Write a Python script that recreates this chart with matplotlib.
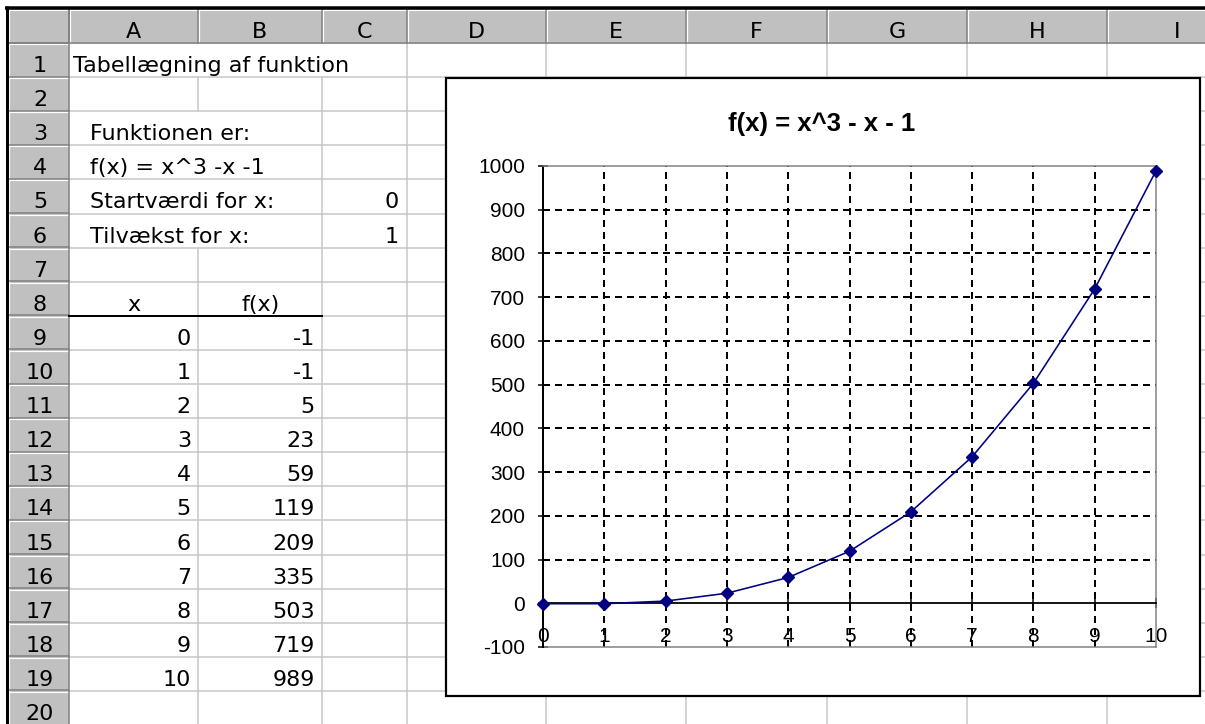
import matplotlib
matplotlib.use("Agg")
import matplotlib.pyplot as plt
from matplotlib.patches import Rectangle

# ---- sheet contents ----
sheet_title = "Tabellægning af funktion"
formula_label = "Funktionen er:"
formula_text = "f(x) = x^3 -x -1"
start_label = "Startværdi for x:"
step_label = "Tilvækst for x:"
start_value = 0
step_value = 1
x_values = [0, 1, 2, 3, 4, 5, 6, 7, 8, 9, 10]
fx_values = [-1, -1, 5, 23, 59, 119, 209, 335, 503, 719, 989]
column_letters = ["A", "B", "C", "D", "E", "F", "G", "H", "I"]

chart_title = "f(x) = x^3 - x - 1"
y_ticks = [-100, 0, 100, 200, 300, 400, 500, 600, 700, 800, 900, 1000]

# ---- layout (pixels) ----
W, H = 1205, 724
PX = 0.72                     # points per pixel at 100 dpi
col_edges = [8, 69, 198, 322, 407, 546, 686, 827, 967, 1107, 1247]
header_top, header_bottom = 9, 43
row_h = 34.1
n_rows = 20
grid_col = "#c6c6c6"
face_col = "#c0c0c0"
dark_col = "#808080"

plt.rcParams["lines.scale_dashes"] = False
plt.rcParams["axes.unicode_minus"] = False


def row_top(r):
    return header_bottom + (r - 1) * row_h


fig = plt.figure(figsize=(W / 100, H / 100), dpi=100)
bg = fig.add_axes([0, 0, 1, 1])
bg.set_xlim(0, W)
bg.set_ylim(H, 0)
bg.axis("off")

# cell grid; long texts run over the A/B and B/C borders
skip = {(1, 198), (1, 322), (3, 198), (4, 198), (5, 198), (6, 198)}
for r in range(1, n_rows + 2):
    y = row_top(r)
    bg.plot([col_edges[1], W], [y, y], color=grid_col, lw=1.5 * PX)
for r in range(1, n_rows + 1):
    for x in col_edges[2:]:
        if (r, x) in skip:
            continue
        bg.plot([x, x], [row_top(r), row_top(r + 1)], color=grid_col, lw=1.5 * PX)

# column and row headers
bg.add_patch(Rectangle((8, header_top), W - 8, header_bottom - header_top, fc=face_col, ec="none"))
bg.add_patch(Rectangle((8, header_bottom), col_edges[1] - 8, H - header_bottom, fc=face_col, ec="none"))
bg.plot([8, W], [header_top + 1, header_top + 1], color="white", lw=1.2 * PX)
bg.plot([9, 9], [header_top, H], color="white", lw=1.2 * PX)
for x in col_edges[1:]:
    bg.plot([x - 0.5, x - 0.5], [header_top, header_bottom], color=dark_col, lw=1.5 * PX)
    bg.plot([x + 1, x + 1], [header_top + 1, header_bottom - 1], color="white", lw=1.2 * PX)
for r in range(1, n_rows + 2):
    y = row_top(r)
    bg.plot([8, col_edges[1]], [y - 0.5, y - 0.5], color=dark_col, lw=1.5 * PX)
    bg.plot([9, col_edges[1] - 1], [y + 1, y + 1], color="white", lw=1.2 * PX)
bg.plot([col_edges[1], col_edges[1]], [header_top, H], color=dark_col, lw=1.5 * PX)
bg.plot([8, W], [header_bottom, header_bottom], color=dark_col, lw=1.5 * PX)

# window frame
bg.plot([6.5, 6.5], [5.5, H], color="black", lw=3 * PX, solid_capstyle="butt")
bg.plot([5, W], [7.5, 7.5], color="black", lw=3.5 * PX, solid_capstyle="butt")

fs = 16
for i, letter in enumerate(column_letters):
    cx = (col_edges[i + 1] + col_edges[i + 2]) / 2
    bg.text(cx, header_bottom - 4.5, letter, ha="center", va="baseline", fontsize=fs)
for r in range(1, n_rows + 1):
    bg.text(40, row_top(r + 1) - 5, str(r), ha="center", va="baseline", fontsize=fs)


def base(r):
    return row_top(r + 1) - 5


bg.text(73, base(1), sheet_title, va="baseline", fontsize=fs)
bg.text(90, base(3), formula_label, va="baseline", fontsize=fs)
bg.text(90, base(4), formula_text, va="baseline", fontsize=fs)
bg.text(90, base(5), start_label, va="baseline", fontsize=fs)
bg.text(399, base(5), str(start_value), ha="right", va="baseline", fontsize=fs)
bg.text(90, base(6), step_label, va="baseline", fontsize=fs)
bg.text(399, base(6), str(step_value), ha="right", va="baseline", fontsize=fs)

bg.text(133.5, base(8), "x", ha="center", va="baseline", fontsize=fs)
bg.text(261, base(8), "f(x)", ha="center", va="baseline", fontsize=fs)
bg.plot([col_edges[1], col_edges[3]], [row_top(9), row_top(9)], color="black", lw=2 * PX)

for k, (xv, fv) in enumerate(zip(x_values, fx_values)):
    r = 9 + k
    bg.text(191, base(r), str(xv), ha="right", va="baseline", fontsize=fs)
    bg.text(315, base(r), str(fv), ha="right", va="baseline", fontsize=fs)

# ---- embedded chart ----
bg.add_patch(Rectangle((446, 78), 754, 618, fc="white", ec="black", lw=2.2 * PX, zorder=5))
bg.text(822, 124, chart_title, ha="center", va="center", fontsize=18.5,
        fontweight="bold", family="Liberation Sans", zorder=6)

left, right, top, bottom = 543, 1156, 166, 647
ax = fig.add_axes([left / W, 1 - bottom / H, (right - left) / W, (bottom - top) / H])
ax.set_zorder(2)
ax.set_xlim(0, 10)
ax.set_ylim(-100, 1000)

dash = (0, (7 * PX, 5 * PX))
for xv in x_values[1:-1]:
    ax.axvline(xv, color="black", lw=2 * PX, linestyle=dash, zorder=1)
for yv in y_ticks[2:-1]:
    ax.axhline(yv, color="black", lw=2 * PX, linestyle=dash, zorder=1)

for side in ("top", "right"):
    ax.spines[side].set_color(dark_col)
    ax.spines[side].set_linewidth(1.5 * PX)
ax.axhline(-100, color=dark_col, lw=1.5 * PX, clip_on=False)
ax.spines["left"].set_color("black")
ax.spines["left"].set_linewidth(2 * PX)
ax.spines["bottom"].set_position(("data", 0))
ax.spines["bottom"].set_color("black")
ax.spines["bottom"].set_linewidth(1.8 * PX)

ax.set_xticks(x_values)
ax.set_yticks(y_ticks)
ax.tick_params(direction="inout", length=10 * PX, width=1.5 * PX, labelsize=15)
ax.tick_params(axis="x", pad=19 * PX)
ax.tick_params(axis="y", pad=13 * PX)
for lab in ax.get_xticklabels() + ax.get_yticklabels():
    lab.set_family("Liberation Sans")

ax.plot(x_values, fx_values, color="#000080", lw=1.6 * PX, marker="D",
        markersize=6.3, clip_on=False, zorder=5)

fig.savefig("out.png", dpi=100)
